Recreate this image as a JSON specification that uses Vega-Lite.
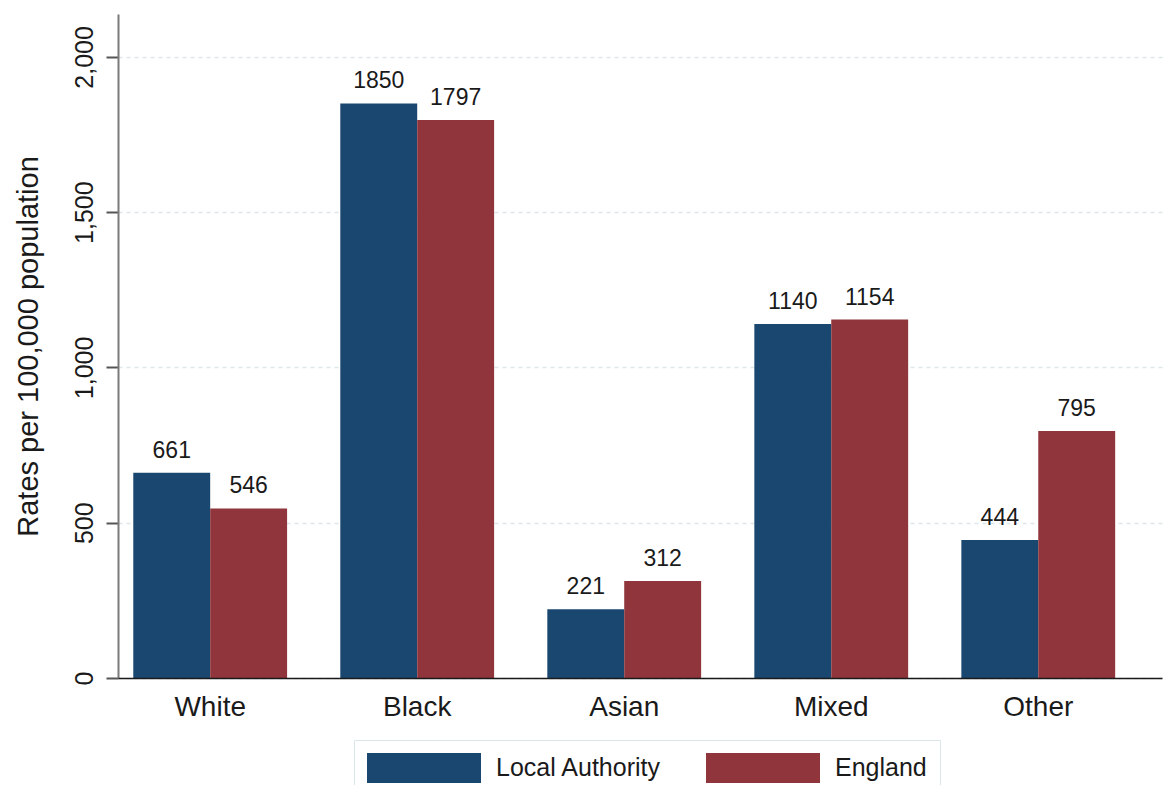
{
  "$schema": "https://vega.github.io/schema/vega-lite/v6.json",
  "width": 1044,
  "height": 664,
  "autosize": "none",
  "padding": {"left": 118, "top": 14, "right": 2, "bottom": 107},
  "background": "white",
  "data": {
    "values": [
      {"group": "White", "area": "Local Authority", "rate": 661},
      {"group": "White", "area": "England", "rate": 546},
      {"group": "Black", "area": "Local Authority", "rate": 1850},
      {"group": "Black", "area": "England", "rate": 1797},
      {"group": "Asian", "area": "Local Authority", "rate": 221},
      {"group": "Asian", "area": "England", "rate": 312},
      {"group": "Mixed", "area": "Local Authority", "rate": 1140},
      {"group": "Mixed", "area": "England", "rate": 1154},
      {"group": "Other", "area": "Local Authority", "rate": 444},
      {"group": "Other", "area": "England", "rate": 795}
    ]
  },
  "encoding": {
    "x": {
      "field": "group",
      "type": "nominal",
      "sort": ["White", "Black", "Asian", "Mixed", "Other"],
      "scale": {"paddingInner": 0.257, "paddingOuter": 0.15, "align": 0.246},
      "axis": {
        "title": null,
        "labelAngle": 0,
        "ticks": false,
        "tickSize": 0,
        "labelPadding": 37,
        "labelBaseline": "alphabetic",
        "labelFontSize": 28,
        "labelColor": "#1a1a1a",
        "labelFont": "Liberation Sans",
        "domainColor": "#1a1a1a",
        "domainWidth": 1.5,
        "grid": false,
        "zindex": 1
      }
    },
    "xOffset": {
      "field": "area",
      "type": "nominal",
      "sort": ["Local Authority", "England"],
      "scale": {"paddingInner": 0, "paddingOuter": 0}
    },
    "y": {
      "field": "rate",
      "type": "quantitative",
      "scale": {"domain": [0, 2138], "nice": false, "zero": true},
      "axis": {
        "title": "Rates per 100,000 population",
        "values": [0, 500, 1000, 1500, 2000],
        "format": ",d",
        "labelAngle": 270,
        "labelAlign": "center",
        "labelBaseline": "alphabetic",
        "labelPadding": 14,
        "tickSize": 12,
        "tickColor": "#555555",
        "tickWidth": 2,
        "domainColor": "#7a7a7a",
        "domainWidth": 2,
        "labelFontSize": 25,
        "labelColor": "#1a1a1a",
        "labelFont": "Liberation Sans",
        "grid": true,
        "gridColor": "#dde7e9",
        "gridDash": [4, 4],
        "gridWidth": 1.5,
        "titleFont": "Liberation Sans",
        "titleFontSize": 29,
        "titleFontWeight": "normal",
        "titleColor": "#1a1a1a",
        "titleAngle": 270,
        "titleX": -81,
        "titleY": 332,
        "titleBaseline": "alphabetic",
        "titleAlign": "center"
      }
    }
  },
  "layer": [
    {
      "mark": {"type": "bar"},
      "encoding": {
        "color": {
          "field": "area",
          "type": "nominal",
          "sort": ["Local Authority", "England"],
          "scale": {"domain": ["Local Authority", "England"], "range": ["#1a476f", "#90353b"]},
          "legend": {
            "title": null,
            "orient": "none",
            "legendX": 236,
            "legendY": 726,
            "direction": "horizontal",
            "symbolType": "M-3.8,-1H3.8V1H-3.8Z",
            "symbolSize": 900,
            "symbolOffset": 42,
            "symbolStrokeWidth": 0,
            "symbolOpacity": 1,
            "labelOffset": 57,
            "labelFontSize": 25,
            "labelFont": "Liberation Sans",
            "labelColor": "#1a1a1a",
            "labelLimit": 400,
            "columnPadding": 44,
            "padding": 13,
            "strokeColor": "#dbe6e8",
            "fillColor": "white"
          }
        }
      }
    },
    {
      "mark": {
        "type": "text",
        "baseline": "alphabetic",
        "dy": -15,
        "fontSize": 23,
        "font": "Liberation Sans",
        "color": "#1a1a1a"
      },
      "encoding": {
        "text": {"field": "rate", "type": "quantitative", "format": "d"}
      }
    }
  ],
  "config": {
    "view": {"stroke": null},
    "font": "Liberation Sans"
  }
}
